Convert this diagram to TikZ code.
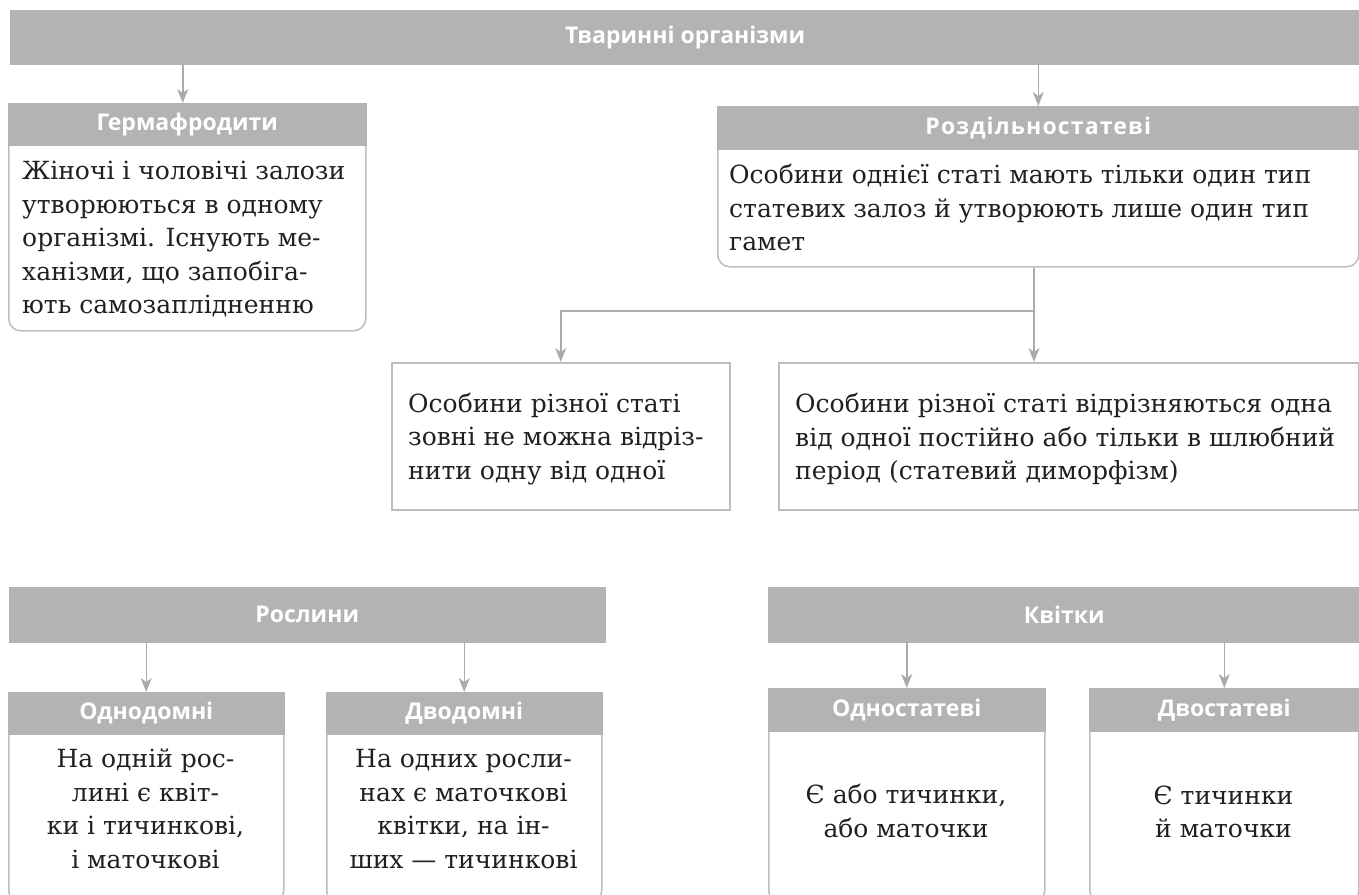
\documentclass[tikz,border=0pt]{standalone}
\usepackage{fontspec}
\setmainfont{DejaVu Serif}
\newfontfamily\hdrfont{Open Sans}
\newfontfamily\hdrwide[LetterSpace=5]{Open Sans}
\usetikzlibrary{arrows.meta}
\definecolor{hdrgray}{HTML}{B3B3B3}
\definecolor{linegray}{HTML}{BDBDBD}
\definecolor{arrgray}{HTML}{ABABAB}
\definecolor{txtcol}{HTML}{231F20}
\begin{document}
\begin{tikzpicture}[x=1pt,y=-1pt,
  hdr/.style={fill=hdrgray, draw=hdrgray, line width=1.5pt, text=white,
    font=\hdrfont\bfseries\fontsize{23}{26}\selectfont, inner sep=0pt, anchor=north west},
  bodybox/.style={draw=linegray, line width=1.5pt, rounded corners=12pt, inner sep=0pt, anchor=north west},
  plainbox/.style={draw=linegray, line width=1.5pt, inner sep=0pt, anchor=north west},
  txt/.style={font=\fontsize{25}{33.5}\selectfont, inner sep=0pt, text=txtcol},
  conn/.style={draw=arrgray, line width=1.5pt, -{Stealth[length=14pt,width=11pt,inset=4pt]}}
]
\useasboundingbox (0,0) rectangle (1359,894);

% top bar
\node[hdr, minimum width=1349pt, minimum height=53pt] (top) at (10,10) {Тваринні організми};

% Hermaphrodites
\node[bodybox, minimum width=357pt, minimum height=227pt] (herbody) at (8,103) {};
\node[hdr, minimum width=357pt, minimum height=41pt] (herhd) at (8,103) {Гермафродити};
\node[txt, align=left, anchor=west] (hertxt) at (22,239.5) {Жіночі і чоловічі залози\\утворюються в одному\\організмі. Існують ме-\\ханізми, що запобіга-\\ють самозаплідненню};

% Separate sexes
\node[bodybox, minimum width=641pt, minimum height=160pt] (rozbody) at (717,106) {};
\node[hdr, minimum width=641pt, minimum height=42pt, font=\hdrwide\bfseries\fontsize{23}{26}\selectfont] (rozhd) at (717,106) {Роздільностатеві};
\node[txt, align=left, anchor=west] (roztxt) at (729,207.7) {Особини однієї статі мають тільки один тип\\статевих залоз й утворюють лише один тип\\гамет};

% middle boxes
\node[plainbox, minimum width=338pt, minimum height=147pt] (midL) at (391,362) {};
\node[txt, align=left, anchor=west] (midLtxt) at (408,439) {Особини різної статі\\зовні не можна відріз-\\нити одну від одної};
\node[plainbox, minimum width=580pt, minimum height=147pt] (midR) at (778,362) {};
\node[txt, align=left, anchor=west] (midRtxt) at (795,439) {Особини різної статі відрізняються одна\\від одної постійно або тільки в шлюбний\\період (статевий диморфізм)};

% plants
\node[hdr, minimum width=595pt, minimum height=54pt] (plants) at (9,587) {Рослини};
\node[bodybox, minimum width=275pt, minimum height=210pt] (odnbody) at (8,692) {};
\node[hdr, minimum width=275pt, minimum height=41pt] (odnhd) at (8,692) {Однодомні};
\node[txt, align=center] (odntxt) at (145.5,809) {На одній рос-\\лині є квіт-\\ки і тичинкові,\\і маточкові};
\node[bodybox, minimum width=275pt, minimum height=210pt] (dvobody) at (326,692) {};
\node[hdr, minimum width=275pt, minimum height=41pt] (dvohd) at (326,692) {Дводомні};
\node[txt, align=center] (dvotxt) at (463.5,809) {На одних росли-\\нах є маточкові\\квітки, на ін-\\ших — тичинкові};

% flowers
\node[hdr, minimum width=591pt, minimum height=54pt] (flowers) at (768,587) {Квітки};
\node[bodybox, minimum width=276pt, minimum height=214pt] (unibody) at (768,688) {};
\node[hdr, minimum width=276pt, minimum height=42pt] (unihd) at (768,688) {Одностатеві};
\node[txt, align=center] (unitxt) at (906,811) {Є або тичинки,\\або маточки};
\node[bodybox, minimum width=269pt, minimum height=214pt] (bibody) at (1089,688) {};
\node[hdr, minimum width=269pt, minimum height=42pt] (bihd) at (1089,688) {Двостатеві};
\node[txt, align=center] (bitxt) at (1223.5,812) {Є тичинки\\й маточки};

% connectors
\coordinate (hA) at ([xshift=-4.5pt]herhd.north);
\draw[conn] (hA |- top.south) -- (hA);
\draw[conn] (rozhd.north |- top.south) -- (rozhd.north);
\coordinate (branch) at (1034,311);
\draw[conn] (branch |- rozbody.south) -- (branch |- midR.north);
\draw[conn] (branch) -| (midL.north);
\draw[conn] (odnhd.north |- plants.south) -- (odnhd.north);
\draw[conn] (dvohd.north |- plants.south) -- (dvohd.north);
\draw[conn] (unihd.north |- flowers.south) -- (unihd.north);
\draw[conn] (bihd.north |- flowers.south) -- (bihd.north);
\end{tikzpicture}
\end{document}
